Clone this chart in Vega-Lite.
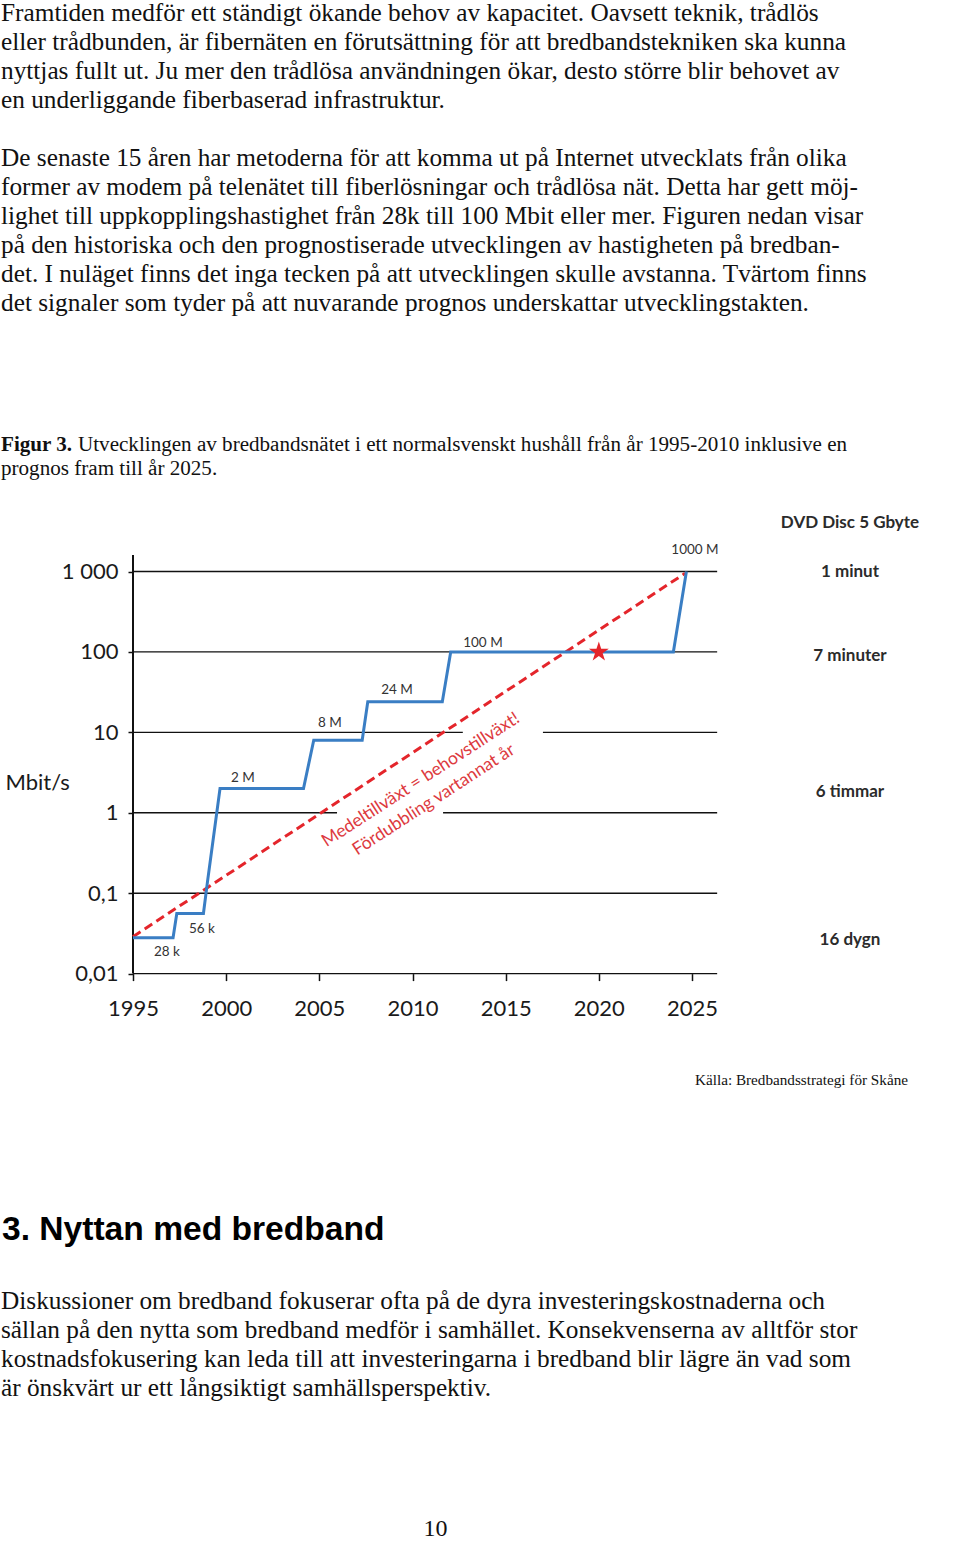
{
  "$schema": "https://vega.github.io/schema/vega-lite/v6.json",
  "width": 960,
  "height": 1542,
  "autosize": {"type": "none"},
  "padding": 0,
  "background": "white",
  "config": {"view": {"stroke": null}},
  "resolve": {"scale": {"x": "independent", "y": "independent"}, "axis": {"x": "independent", "y": "independent"}},
  "datasets": {
    "introtext": [
      {"line": 0, "text": "Framtiden medför ett ständigt ökande behov av kapacitet. Oavsett teknik, trådlös"},
      {"line": 1, "text": "eller trådbunden, är fibernäten en förutsättning för att bredbandstekniken ska kunna"},
      {"line": 2, "text": "nyttjas fullt ut. Ju mer den trådlösa användningen ökar, desto större blir behovet av"},
      {"line": 3, "text": "en underliggande fiberbaserad infrastruktur."},
      {"line": 5, "text": "De senaste 15 åren har metoderna för att komma ut på Internet utvecklats från olika"},
      {"line": 6, "text": "former av modem på telenätet till fiberlösningar och trådlösa nät. Detta har gett möj-"},
      {"line": 7, "text": "lighet till uppkopplingshastighet från 28k till 100 Mbit eller mer. Figuren nedan visar"},
      {"line": 8, "text": "på den historiska och den prognostiserade utvecklingen av hastigheten på bredban-"},
      {"line": 9, "text": "det. I nuläget finns det inga tecken på att utvecklingen skulle avstanna. Tvärtom finns"},
      {"line": 10, "text": "det signaler som tyder på att nuvarande prognos underskattar utvecklingstakten."}
    ],
    "outrotext": [
      {"line": 0, "text": "Diskussioner om bredband fokuserar ofta på de dyra investeringskostnaderna och"},
      {"line": 1, "text": "sällan på den nytta som bredband medför i samhället. Konsekvenserna av alltför stor"},
      {"line": 2, "text": "kostnadsfokusering kan leda till att investeringarna i bredband blir lägre än vad som"},
      {"line": 3, "text": "är önskvärt ur ett långsiktigt samhällsperspektiv."}
    ],
    "gridlines": [
      {"mbps": 1000, "from": 1995, "to": 2026.35},
      {"mbps": 100, "from": 1995, "to": 2026.35},
      {"mbps": 10, "from": 1995, "to": 2012.7},
      {"mbps": 10, "from": 2017.0, "to": 2026.35},
      {"mbps": 1, "from": 1995, "to": 2005.95},
      {"mbps": 1, "from": 2011.64, "to": 2026.35},
      {"mbps": 0.1, "from": 1995, "to": 2026.35},
      {"mbps": 0.01, "from": 1995, "to": 2026.35}
    ],
    "speedsteps": [
      {"year": 1995, "mbps": 0.028},
      {"year": 1997.15, "mbps": 0.028},
      {"year": 1997.35, "mbps": 0.056},
      {"year": 1998.78, "mbps": 0.056},
      {"year": 1999.0, "mbps": 0.14},
      {"year": 1999.67, "mbps": 2},
      {"year": 2004.15, "mbps": 2},
      {"year": 2004.7, "mbps": 8},
      {"year": 2007.3, "mbps": 8},
      {"year": 2007.6, "mbps": 24},
      {"year": 2011.6, "mbps": 24},
      {"year": 2012.05, "mbps": 100},
      {"year": 2024.0, "mbps": 100},
      {"year": 2024.7, "mbps": 1000}
    ],
    "trendline": [
      {"year": 1995, "mbps": 0.0288},
      {"year": 2024.63, "mbps": 950}
    ],
    "starpoint": [{"year": 2020, "mbps": 100}],
    "steplabels": [
      {"label": "28 k", "year": 1996.82, "mbps": 0.0186},
      {"label": "56 k", "year": 1998.7, "mbps": 0.0358},
      {"label": "2 M", "year": 2000.9, "mbps": 2.73},
      {"label": "8 M", "year": 2005.57, "mbps": 13.2},
      {"label": "24 M", "year": 2009.17, "mbps": 33.9},
      {"label": "100 M", "year": 2013.78, "mbps": 130},
      {"label": "1000 M", "year": 2025.16, "mbps": 1870}
    ],
    "trendlabels": [
      {"label": "Medeltillväxt = behovstillväxt!", "year": 2010.45, "mbps": 2.55},
      {"label": "Fördubbling vartannat år", "year": 2011.15, "mbps": 1.44}
    ],
    "dvdtimes": [
      {"label": "DVD Disc 5 Gbyte", "year": 2033.48, "mbps": 4000},
      {"label": "1 minut", "year": 2033.48, "mbps": 984},
      {"label": "7 minuter", "year": 2033.48, "mbps": 89},
      {"label": "6 timmar", "year": 2033.48, "mbps": 1.81},
      {"label": "16 dygn", "year": 2033.48, "mbps": 0.0262}
    ]
  },
  "layer": [
    {
      "data": {"name": "introtext"},
      "mark": {"type": "text", "align": "left", "baseline": "middle", "font": "Liberation Serif", "fontSize": 25.3, "color": "#111"},
      "encoding": {
        "x": {"value": 1},
        "y": {"field": "line", "type": "quantitative", "scale": {"domain": [0, 10], "range": [13, 303], "nice": false, "zero": false}, "axis": null},
        "text": {"field": "text"}
      }
    },
    {
      "data": {"values": [{"text": "Figur 3."}]},
      "mark": {"type": "text", "align": "left", "baseline": "middle", "font": "Liberation Serif", "fontSize": 21.1, "fontWeight": "bold", "color": "#111"},
      "encoding": {"x": {"value": 1}, "y": {"value": 445}, "text": {"field": "text"}}
    },
    {
      "data": {"values": [{"text": "Utvecklingen av bredbandsnätet i ett normalsvenskt hushåll från år 1995-2010 inklusive en"}]},
      "mark": {"type": "text", "align": "left", "baseline": "middle", "font": "Liberation Serif", "fontSize": 21.1, "color": "#111"},
      "encoding": {"x": {"value": 78}, "y": {"value": 445}, "text": {"field": "text"}}
    },
    {
      "data": {"values": [{"text": "prognos fram till år 2025."}]},
      "mark": {"type": "text", "align": "left", "baseline": "middle", "font": "Liberation Serif", "fontSize": 21.1, "color": "#111"},
      "encoding": {"x": {"value": 1}, "y": {"value": 469}, "text": {"field": "text"}}
    },
    {
      "data": {"name": "gridlines"},
      "mark": {"type": "rule", "color": "#111", "strokeWidth": 1.4},
      "encoding": {
        "x": {"field": "from", "type": "quantitative", "scale": {"domain": [1995, 2025], "range": [133, 692], "nice": false, "zero": false},
          "axis": {"orient": "bottom", "offset": -568.4, "title": null, "values": [1995, 2000, 2005, 2010, 2015, 2020, 2025], "format": "d", "domain": false, "grid": false, "tickSize": 7, "tickWidth": 1.5, "tickColor": "#111", "labelFont": "Lato", "labelFontSize": 22, "labelColor": "#1a1a1a", "labelPadding": 18, "labelFlush": false, "labelOverlap": false}},
        "x2": {"field": "to"},
        "y": {"field": "mbps", "type": "quantitative", "scale": {"type": "log", "domain": [0.01, 1000], "range": [973.6, 571.5], "nice": false},
          "axis": {"orient": "left", "offset": -133, "title": "Mbit/s", "values": [0.01, 0.1, 1, 10, 100, 1000], "labelExpr": "datum.value >= 1000 ? '1 000' : replace(format(datum.value, '~g'), '.', ',')", "domain": false, "grid": false, "tickSize": 5, "tickWidth": 1.5, "tickColor": "#111", "labelFont": "Lato", "labelFontSize": 22, "labelColor": "#1a1a1a", "labelPadding": 10, "labelFlush": false, "labelOverlap": false, "titleAngle": 0, "titleX": -128, "titleY": 782, "titleAlign": "left", "titleBaseline": "middle", "titleFont": "Lato", "titleFontSize": 22, "titleFontWeight": "normal", "titleColor": "#1a1a1a"}}
      }
    },
    {
      "data": {"values": [{"year": 1995, "mbps": 0.01, "mbps2": 1600}]},
      "mark": {"type": "rule", "color": "#111", "strokeWidth": 2},
      "encoding": {
        "x": {"field": "year", "type": "quantitative", "scale": {"domain": [1995, 2025], "range": [133, 692], "nice": false, "zero": false}, "axis": null},
        "y": {"field": "mbps", "type": "quantitative", "scale": {"type": "log", "domain": [0.01, 1000], "range": [973.6, 571.5], "nice": false}, "axis": null},
        "y2": {"field": "mbps2"}
      }
    },
    {
      "data": {"name": "trendline"},
      "mark": {"type": "line", "color": "#e4252b", "strokeWidth": 3, "strokeDash": [9, 5]},
      "encoding": {
        "x": {"field": "year", "type": "quantitative", "scale": {"domain": [1995, 2025], "range": [133, 692], "nice": false, "zero": false}, "axis": null},
        "y": {"field": "mbps", "type": "quantitative", "scale": {"type": "log", "domain": [0.01, 1000], "range": [973.6, 571.5], "nice": false}, "axis": null}
      }
    },
    {
      "data": {"name": "speedsteps"},
      "mark": {"type": "line", "color": "#3a7ec4", "strokeWidth": 3},
      "encoding": {
        "x": {"field": "year", "type": "quantitative", "scale": {"domain": [1995, 2025], "range": [133, 692], "nice": false, "zero": false}, "axis": null},
        "y": {"field": "mbps", "type": "quantitative", "scale": {"type": "log", "domain": [0.01, 1000], "range": [973.6, 571.5], "nice": false}, "axis": null}
      }
    },
    {
      "data": {"name": "starpoint"},
      "mark": {"type": "point", "shape": "M0,-1L0.2245,-0.309L0.9511,-0.309L0.3633,0.118L0.5878,0.809L0,0.382L-0.5878,0.809L-0.3633,0.118L-0.9511,-0.309L-0.2245,-0.309Z", "filled": true, "size": 440, "color": "#e4252b", "opacity": 1},
      "encoding": {
        "x": {"field": "year", "type": "quantitative", "scale": {"domain": [1995, 2025], "range": [133, 692], "nice": false, "zero": false}, "axis": null},
        "y": {"field": "mbps", "type": "quantitative", "scale": {"type": "log", "domain": [0.01, 1000], "range": [973.6, 571.5], "nice": false}, "axis": null}
      }
    },
    {
      "data": {"name": "steplabels"},
      "mark": {"type": "text", "font": "Lato", "fontSize": 13.5, "color": "#333", "align": "center", "baseline": "middle"},
      "encoding": {
        "x": {"field": "year", "type": "quantitative", "scale": {"domain": [1995, 2025], "range": [133, 692], "nice": false, "zero": false}, "axis": null},
        "y": {"field": "mbps", "type": "quantitative", "scale": {"type": "log", "domain": [0.01, 1000], "range": [973.6, 571.5], "nice": false}, "axis": null},
        "text": {"field": "label"}
      }
    },
    {
      "data": {"name": "trendlabels"},
      "mark": {"type": "text", "font": "Lato", "fontSize": 17.6, "color": "#dd3a40", "align": "center", "baseline": "middle", "angle": -33},
      "encoding": {
        "x": {"field": "year", "type": "quantitative", "scale": {"domain": [1995, 2025], "range": [133, 692], "nice": false, "zero": false}, "axis": null},
        "y": {"field": "mbps", "type": "quantitative", "scale": {"type": "log", "domain": [0.01, 1000], "range": [973.6, 571.5], "nice": false}, "axis": null},
        "text": {"field": "label"}
      }
    },
    {
      "data": {"name": "dvdtimes"},
      "mark": {"type": "text", "font": "Lato", "fontSize": 17, "fontWeight": "bold", "color": "#2b2b2b", "align": "center", "baseline": "middle"},
      "encoding": {
        "x": {"field": "year", "type": "quantitative", "scale": {"domain": [1995, 2025], "range": [133, 692], "nice": false, "zero": false}, "axis": null},
        "y": {"field": "mbps", "type": "quantitative", "scale": {"type": "log", "domain": [0.01, 1000], "range": [973.6, 571.5], "nice": false}, "axis": null},
        "text": {"field": "label"}
      }
    },
    {
      "data": {"values": [{"text": "Källa: Bredbandsstrategi för Skåne"}]},
      "mark": {"type": "text", "align": "left", "baseline": "middle", "font": "Liberation Serif", "fontSize": 15.2, "color": "#111"},
      "encoding": {"x": {"value": 695}, "y": {"value": 1080}, "text": {"field": "text"}}
    },
    {
      "data": {"values": [{"text": "3. Nyttan med bredband"}]},
      "mark": {"type": "text", "align": "left", "baseline": "middle", "font": "Liberation Sans", "fontSize": 33.6, "fontWeight": "bold", "color": "#000"},
      "encoding": {"x": {"value": 2}, "y": {"value": 1230}, "text": {"field": "text"}}
    },
    {
      "data": {"name": "outrotext"},
      "mark": {"type": "text", "align": "left", "baseline": "middle", "font": "Liberation Serif", "fontSize": 25.3, "color": "#111"},
      "encoding": {
        "x": {"value": 1},
        "y": {"field": "line", "type": "quantitative", "scale": {"domain": [0, 3], "range": [1301, 1388], "nice": false, "zero": false}, "axis": null},
        "text": {"field": "text"}
      }
    },
    {
      "data": {"values": [{"text": "10"}]},
      "mark": {"type": "text", "align": "center", "baseline": "middle", "font": "Liberation Serif", "fontSize": 24, "color": "#111"},
      "encoding": {"x": {"value": 435.5}, "y": {"value": 1529}, "text": {"field": "text"}}
    }
  ]
}
